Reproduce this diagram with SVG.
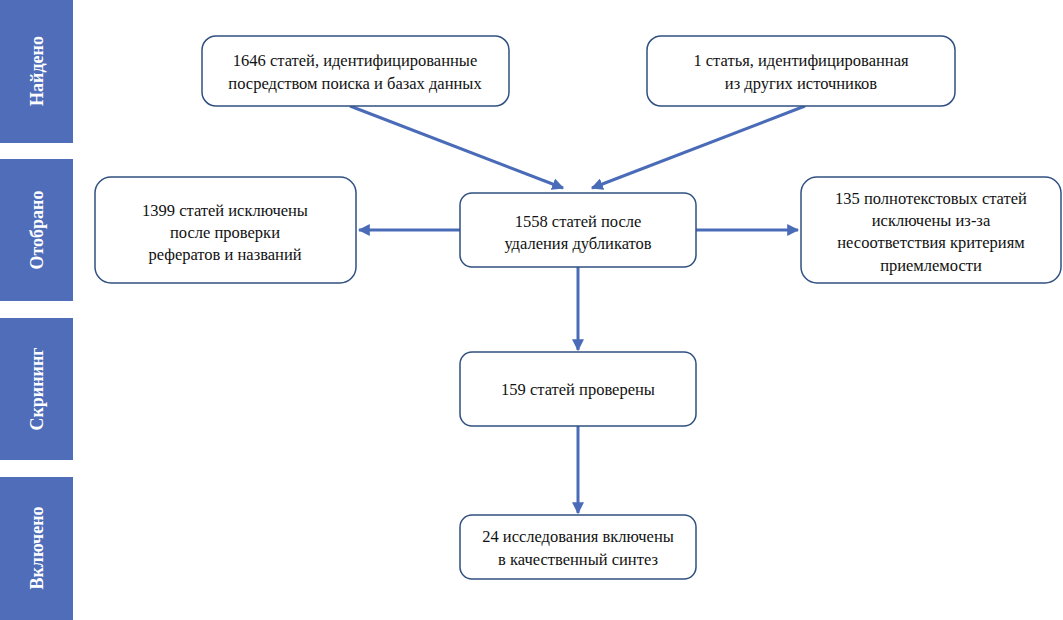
<svg xmlns="http://www.w3.org/2000/svg" width="1063" height="620" viewBox="0 0 1063 620">
<style>
.band{fill:#4f6db8}
.bt{fill:#fff;font-family:"Liberation Serif",serif;font-size:18px;font-weight:bold;text-anchor:middle}
.box{fill:#fff;stroke:#2f5080;stroke-width:1.5}
.t{fill:#111;font-family:"Liberation Serif",serif;font-size:16.5px;text-anchor:middle}
.c{stroke:#4a6cb8;stroke-width:3;fill:none;marker-end:url(#ah)}
</style>
<defs><marker id="ah" viewBox="0 0 10 10" refX="9" refY="5" markerWidth="4" markerHeight="4" orient="auto" markerUnits="strokeWidth"><path d="M0,0L10,5L0,10z" fill="#4a6cb8"/></marker></defs>
<rect width="1063" height="620" fill="#fff"/>
<g id="bands">
<rect class="band" x="0" y="0" width="73" height="143"/>
<text class="bt" transform="translate(43,71) rotate(-90)">Найдено</text>
<rect class="band" x="0" y="159" width="73" height="142"/>
<text class="bt" transform="translate(43,230) rotate(-90)">Отобрано</text>
<rect class="band" x="0" y="318" width="73" height="142"/>
<text class="bt" transform="translate(43,389) rotate(-90)">Скрининг</text>
<rect class="band" x="0" y="477" width="73" height="143"/>
<text class="bt" transform="translate(43,548) rotate(-90)">Включено</text>
</g>
<g id="connectors">
<line class="c" x1="350" y1="106" x2="563" y2="188"/>
<line class="c" x1="805" y1="106" x2="592" y2="188"/>
<line class="c" x1="460" y1="230" x2="359" y2="230"/>
<line class="c" x1="696" y1="230" x2="798" y2="230"/>
<line class="c" x1="578" y1="267" x2="578" y2="350"/>
<line class="c" x1="578" y1="426" x2="578" y2="513"/>
</g>
<g id="nA"><rect class="box" x="202" y="36" width="307" height="70" rx="14"/><text class="t" x="355" y="66">1646 статей, идентифицированные</text><text class="t" x="355" y="89">посредством поиска и базах данных</text></g>
<g id="nB"><rect class="box" x="647" y="36" width="308" height="70" rx="14"/><text class="t" x="801" y="66">1 статья, идентифицированная</text><text class="t" x="801" y="89">из других источников</text></g>
<g id="nC"><rect class="box" x="460" y="193" width="236" height="74" rx="12"/><text class="t" x="578" y="227">1558 статей после</text><text class="t" x="578" y="249">удаления дубликатов</text></g>
<g id="nD"><rect class="box" x="95" y="177" width="261" height="106" rx="16"/><text class="t" x="225" y="216">1399 статей исключены</text><text class="t" x="225" y="238">после проверки</text><text class="t" x="225" y="260">рефератов и названий</text></g>
<g id="nE"><rect class="box" x="801" y="177" width="260" height="106" rx="16"/><text class="t" x="931" y="204">135 полнотекстовых статей</text><text class="t" x="931" y="226">исключены из-за</text><text class="t" x="931" y="248">несоответствия критериям</text><text class="t" x="931" y="271">приемлемости</text></g>
<g id="nF"><rect class="box" x="460" y="352" width="236" height="74" rx="12"/><text class="t" x="578" y="395">159 статей проверены</text></g>
<g id="nG"><rect class="box" x="460" y="515" width="236" height="64" rx="12"/><text class="t" x="578" y="542">24 исследования включены</text><text class="t" x="578" y="565">в качественный синтез</text></g>
</svg>
